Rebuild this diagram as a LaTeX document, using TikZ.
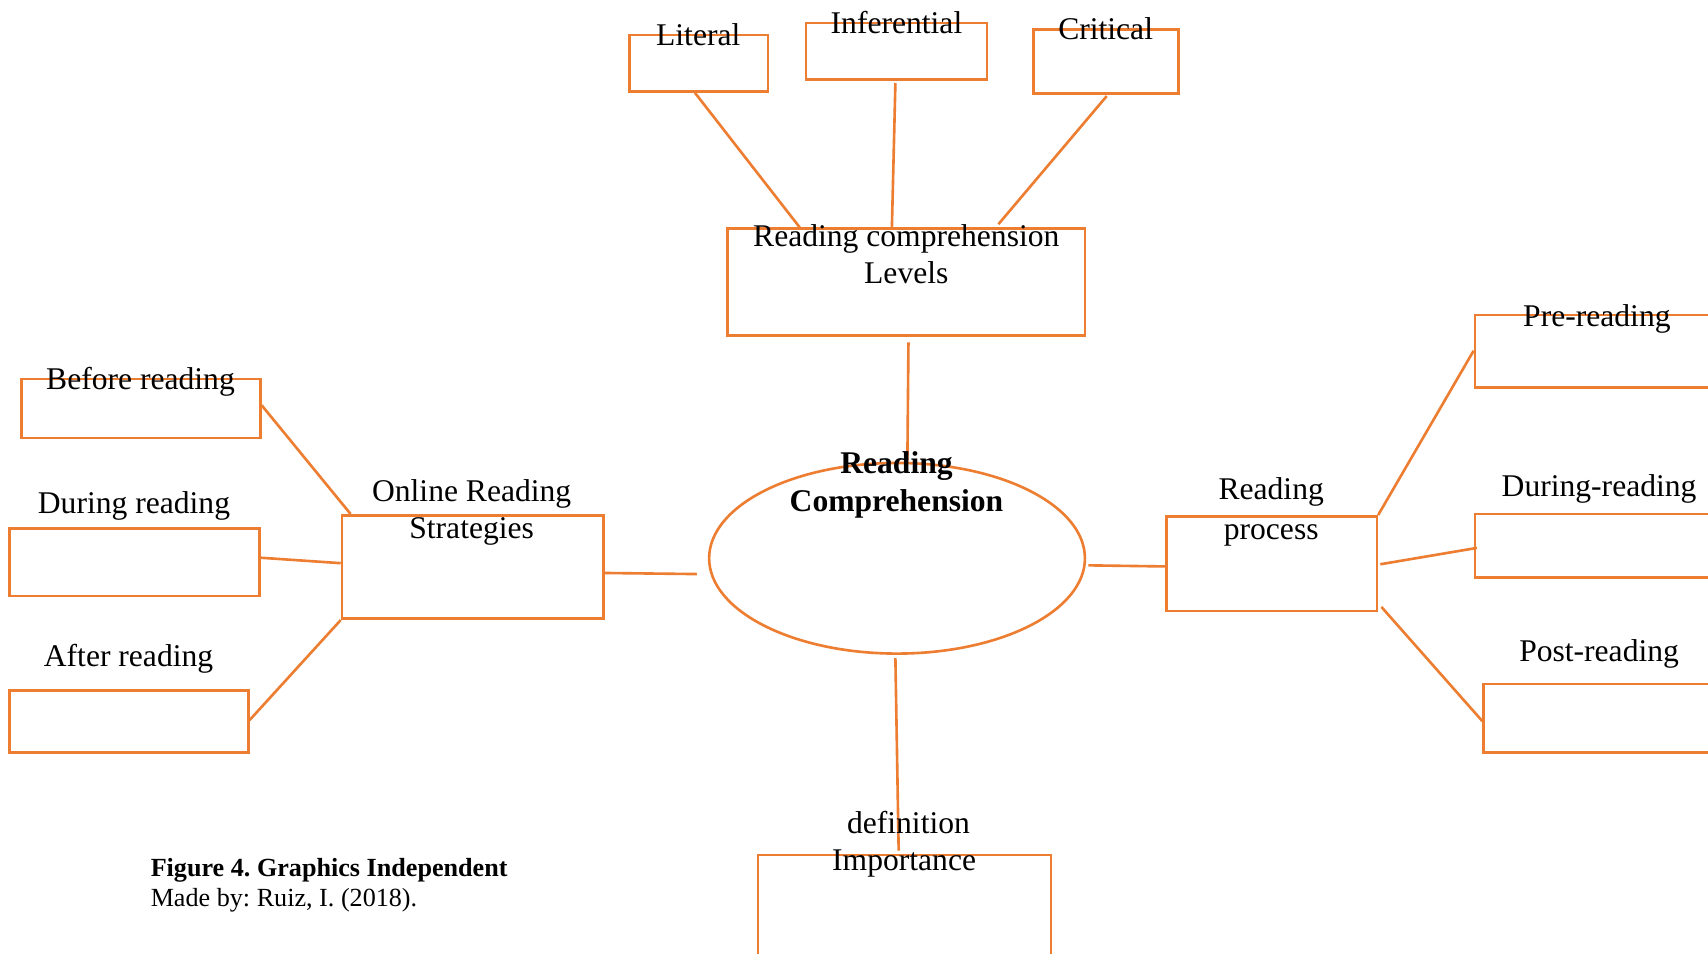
\documentclass[tikz,border=0pt]{standalone}
\usepackage{fontspec}
\setmainfont{Liberation Serif}
\usetikzlibrary{fit,calc,shapes.geometric}
\definecolor{org}{HTML}{ED7D31}
\frenchspacing
\begin{document}
\begin{tikzpicture}[x=0.5pt,y=-0.5pt,
 box/.style={draw=org,line width=1.2pt,inner sep=0pt},
 conn/.style={draw=org,line width=1.2pt},
 lbl/.style={inner sep=0pt,anchor=base,font=\fontsize{14.5}{17}\selectfont},
 blbl/.style={lbl,font=\fontsize{14.5}{17}\selectfont\bfseries},
 captxt/.style={inner sep=0pt,anchor=base west,font=\fontsize{12}{14}\selectfont}]
\clip (0,0) rectangle (1568,875);
\fill[white] (0,0) rectangle (1568,875);
% boxes
\node[box,fit={(578,32)(705,84)}] (lit) {};
\node[box,fit={(740,21)(906,73)}] (inf) {};
\node[box,fit={(949,27)(1082,86)}] (cri) {};
\node[box,fit={(668,210)(996,308)}] (lev) {};
\node[draw=org,line width=1.2pt,ellipse,minimum width=172.5pt,minimum height=87.5pt,inner sep=0pt] (ell) at (823.5,512.5) {};
\node[box,fit={(314,473)(554,568)}] (ors) {};
\node[box,fit={(20,348)(239,402)}] (bef) {};
\node[box,fit={(9,485)(238,547)}] (dur) {};
\node[box,fit={(9,634)(228,691)}] (aft) {};
\node[box,fit={(1071,474)(1264,561)}] (rp) {};
\node[box,fit={(1354,289)(1600,356)}] (pre) {};
\node[box,fit={(1354,472)(1600,530)}] (dre) {};
\node[box,fit={(1362,628)(1600,691)}] (pst) {};
\node[box,fit={(696,785)(965,900)}] (def) {};
% connectors
\draw[conn] ($(lit.south)+(-3.5,0)$) -- ($(lev.north west)!0.204!(lev.north east)$);
\draw[conn] ($(inf.south)+(-1,2)$) -- ($(lev.north west)!0.46!(lev.north east)$);
\draw[conn] ($(cri.south)+(0.5,1)$) -- ($(lev.north west)!0.756!(lev.north east)+(0,-3)$);
\draw[conn] ($(lev.south)+(2,5)$) -- ($(ell.north)+(9.5,-1)$);
\draw[conn] ($(ors.east)+(0,5.5)$) -- ($(ell.west)+(-10,14.5)$);
\draw[conn] ($(bef.east)+(0,-3)$) -- ($(ors.north west)+(9,0)$);
\draw[conn] ($(dur.east)+(0,-4)$) -- ($(ors.west)+(0,-3.5)$);
\draw[conn] ($(aft.east)+(0,-1.5)$) -- (ors.south west);
\draw[conn] ($(ell.east)+(2,6.5)$) -- ($(rp.west)+(0,2.5)$);
\draw[conn] (rp.north east) -- ($(pre.west)+(0,-0.5)$);
\draw[conn] ($(rp.east)+(2,0.5)$) -- ($(dre.west)+(3,2)$);
\draw[conn] ($(rp.south east)+(3,-5)$) -- ($(pst.west)+(0,2.5)$);
\draw[conn] ($(ell.south)+(-1.5,3)$) -- ($(def.north)+(-5.5,-3)$);
% labels
\node[lbl] (tlit) at (641,41.5) {Literal};
\node[lbl] (tinf) at (823,30.5) {Inferential};
\node[lbl] (tcri) at (1015,36.5) {Critical};
\node[lbl] (tlev1) at (832,226) {Reading comprehension};
\node[lbl] (tlev2) at (832,260) {Levels};
\node[blbl] (tell1) at (823,435) {Reading};
\node[blbl] (tell2) at (823,470) {Comprehension};
\node[lbl] (tors1) at (433,460) {Online Reading};
\node[lbl] (tors2) at (433,494) {Strategies};
\node[lbl] (tbef) at (129,357.5) {Before reading};
\node[lbl] (tdur) at (123,471.5) {During reading};
\node[lbl] (taft) at (118,612) {After reading};
\node[lbl] (trp1) at (1167,459) {Reading};
\node[lbl] (trp2) at (1167,495) {process};
\node[lbl] (tpre) at (1466,299.5) {Pre-reading};
\node[lbl] (tdre) at (1468,455.5) {During-reading};
\node[lbl] (tpst) at (1468,607.5) {Post-reading};
\node[lbl] (tdef1) at (834,765.5) {definition};
\node[lbl] (tdef2) at (830,799.5) {Importance};
\node[captxt,font=\fontsize{12}{14}\selectfont\bfseries] (cap1) at (138,805) {Figure 4. Graphics Independent};
\node[captxt] (cap2) at (138,832) {Made by: Ruiz, I. (2018).};
\end{tikzpicture}
\end{document}
